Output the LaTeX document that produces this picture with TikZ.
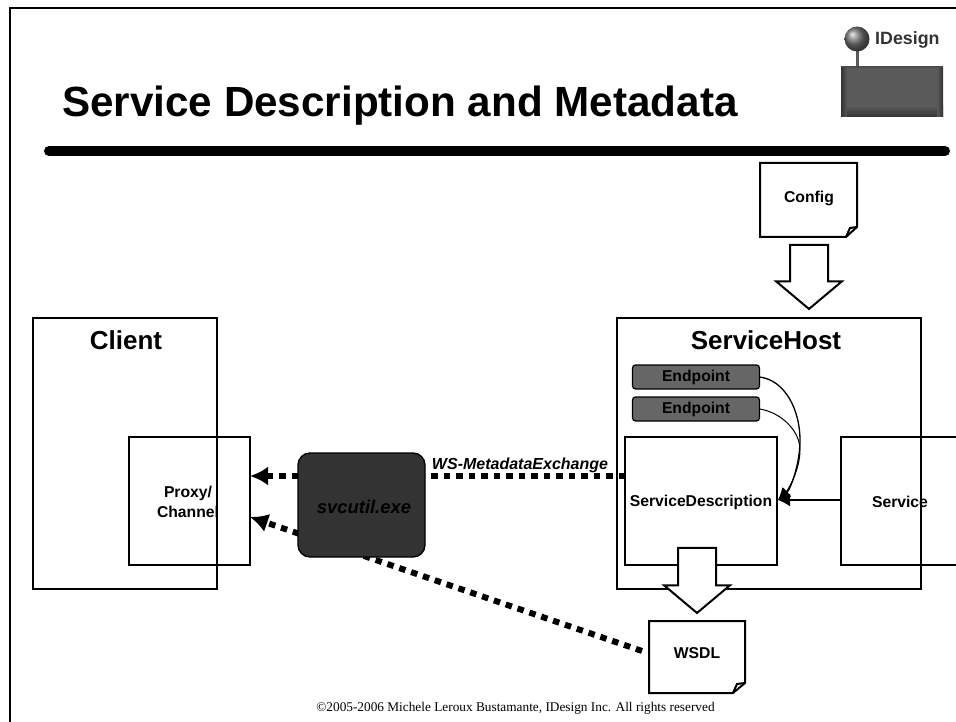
\documentclass[tikz,border=0pt]{standalone}
\usepackage{fontspec}
\setmainfont{Liberation Sans}
\newfontfamily\footfont{Liberation Serif}
\usepackage{tikz}
\usetikzlibrary{arrows.meta,shapes.arrows,shadings}
\definecolor{boxdark}{HTML}{333333}
\definecolor{boxgray}{HTML}{666666}
\definecolor{logogray}{HTML}{5A5A5A}
\begin{document}
\begin{tikzpicture}[x=1pt,y=-1pt,
  panel/.style={draw=black,line width=2pt,outer sep=0pt,inner sep=0pt,anchor=north west},
  endpoint/.style={draw=black,line width=1.2pt,rounded corners=3pt,fill=boxgray,minimum width=127pt,minimum height=24pt,inner sep=0pt,outer sep=0pt,font=\bfseries\fontsize{15.7}{15.7}\selectfont},
  label/.style={inner sep=0pt,font=\bfseries\fontsize{15.7}{20}\selectfont,align=center},
  heading/.style={inner sep=0pt,font=\bfseries\fontsize{26}{26}\selectfont},
  blockarrow/.style={draw=black,line width=2pt,fill=white,shape=single arrow,single arrow head extend=14pt,single arrow tip angle=100,shape border rotate=270,inner xsep=18pt,inner ysep=0pt,outer sep=0pt},
  paper/.style={line width=2pt},
  dotline/.style={line width=6pt,dash pattern=on 6.5pt off 6pt,-{Latex[length=18pt,width=19pt]}}]
\useasboundingbox (0,0) rectangle (956,722);
% page frame
\draw[line width=2pt] (10,722) -- (10,8) -- (956,8);
% title
\node[inner sep=0pt,anchor=base west,font=\bfseries\fontsize{42.2}{42.2}\selectfont] (title) at (62,117) {Service Description and Metadata};
\draw[line width=10pt,line cap=round] (49,151) -- (945,151);
% logo
\node[inner sep=0pt,anchor=west,font=\bfseries\fontsize{17.8}{17.8}\selectfont,text=black!80] (brand) at (875,40) {IDesign};
\draw[line width=3pt,black!65] (857,45) -- (857,68);
\shade[ball color=black!55] (857,39) circle (12.5);
\fill[logogray] (841,67) rectangle (943,117);
\draw[line width=2pt,black!70] (841,67) -- (943,67);
\shade[top color=logogray,bottom color=black!80] (841,106) rectangle (943,117);
\shade[left color=black!80,right color=logogray] (841,68) rectangle (847,117);
\shade[left color=logogray,right color=black!80] (937,68) rectangle (943,117);
% texts under the box lines
\node[heading] (clienttitle) at (126,340) {Client};
\node[heading] (hosttitle) at (766,340) {ServiceHost};
\node[label] (proxytext) at (188,502) {Proxy/\\Channel};
\node[label] (desctext) at (701,502) {ServiceDescription};
\node[label] (servicetext) at (900,502) {Service};
% boxes
\node[panel,minimum width=184pt,minimum height=271pt] (client) at (33,317.5) {};
\node[panel,minimum width=304pt,minimum height=271pt] (host) at (617,317.5) {};
\node[panel,minimum width=121pt,minimum height=128pt] (proxy) at (128.5,437) {};
\node[panel,minimum width=152pt,minimum height=128pt] (desc) at (625,437) {};
\draw[line width=2pt] (956,437) -- (841,437) -- (841,565) -- (956,565);
\coordinate (serviceedge) at (841,500);
\node[endpoint] (endpointa) at (696,377) {Endpoint};
\node[endpoint] (endpointb) at (696,409) {Endpoint};
\coordinate (desctip) at (778,500);
\draw[line width=1.2pt,-{Latex[length=12pt,width=13pt]}] (serviceedge) -- (desctip);
\draw[line width=1.3pt,-{Latex[length=12pt,width=12pt]}] (endpointa.east) .. controls (785,380) and (800,410) .. (800,440) .. controls (800,465) and (790,490) .. (desctip);
\draw[line width=1pt,-{Latex[length=12pt,width=12pt]}] (endpointb.east) .. controls (780,412) and (800,430) .. (800,450) .. controls (800,470) and (788,490) .. (desctip);
% dotted lines
\coordinate (wsdlend) at (642,651);
\coordinate (proxytip) at (250,476);
\coordinate (proxytipb) at (250,517);
\coordinate (descend) at (625,476);
\draw[dotline] (wsdlend) -- (proxytipb);
\draw[line width=6pt,dash pattern=on 6.5pt off 6pt] (descend) -- (425,476);
\draw[dotline] (298,476) -- (proxytip);
\node[draw=black,line width=1.4pt,rounded corners=12pt,fill=boxdark,minimum width=127pt,minimum height=104pt,inner sep=0pt,outer sep=0pt] (svcutil) at (361.5,505) {};
\node[inner sep=0pt,font=\bfseries\itshape\fontsize{18.4}{18.4}\selectfont] (svcutiltext) at (364,507) {svcutil.exe};
\node[inner sep=0pt,font=\bfseries\itshape\fontsize{16}{16}\selectfont] (wsmex) at (520,465) {WS-MetadataExchange};
% block arrows
\node[blockarrow,minimum width=64pt,minimum height=64pt] (configarrow) at (809,269) {};
\node[blockarrow,minimum width=64pt,minimum height=65pt] (wsdlarrow) at (697,572.5) {};
% documents
\draw[paper] (760,163) -- (857,163) -- (857,227) -- (846,237) -- (760,237) -- cycle;
\draw[paper] (846,237) -- (850,228) -- (857,227);
\node[label] (config) at (809,198) {Config};
\draw[paper] (649,621) -- (745,621) -- (745,683) -- (733,693) -- (649,693) -- cycle;
\draw[paper] (733,693) -- (737,684) -- (745,683);
\node[label] (wsdl) at (697,653) {WSDL};
% footer
\node[inner sep=0pt,font=\footfont\fontsize{13.3}{13.3}\selectfont] (footer) at (515.5,708) {©2005-2006 Michele Leroux Bustamante, IDesign Inc. All rights reserved};
\end{tikzpicture}
\end{document}
